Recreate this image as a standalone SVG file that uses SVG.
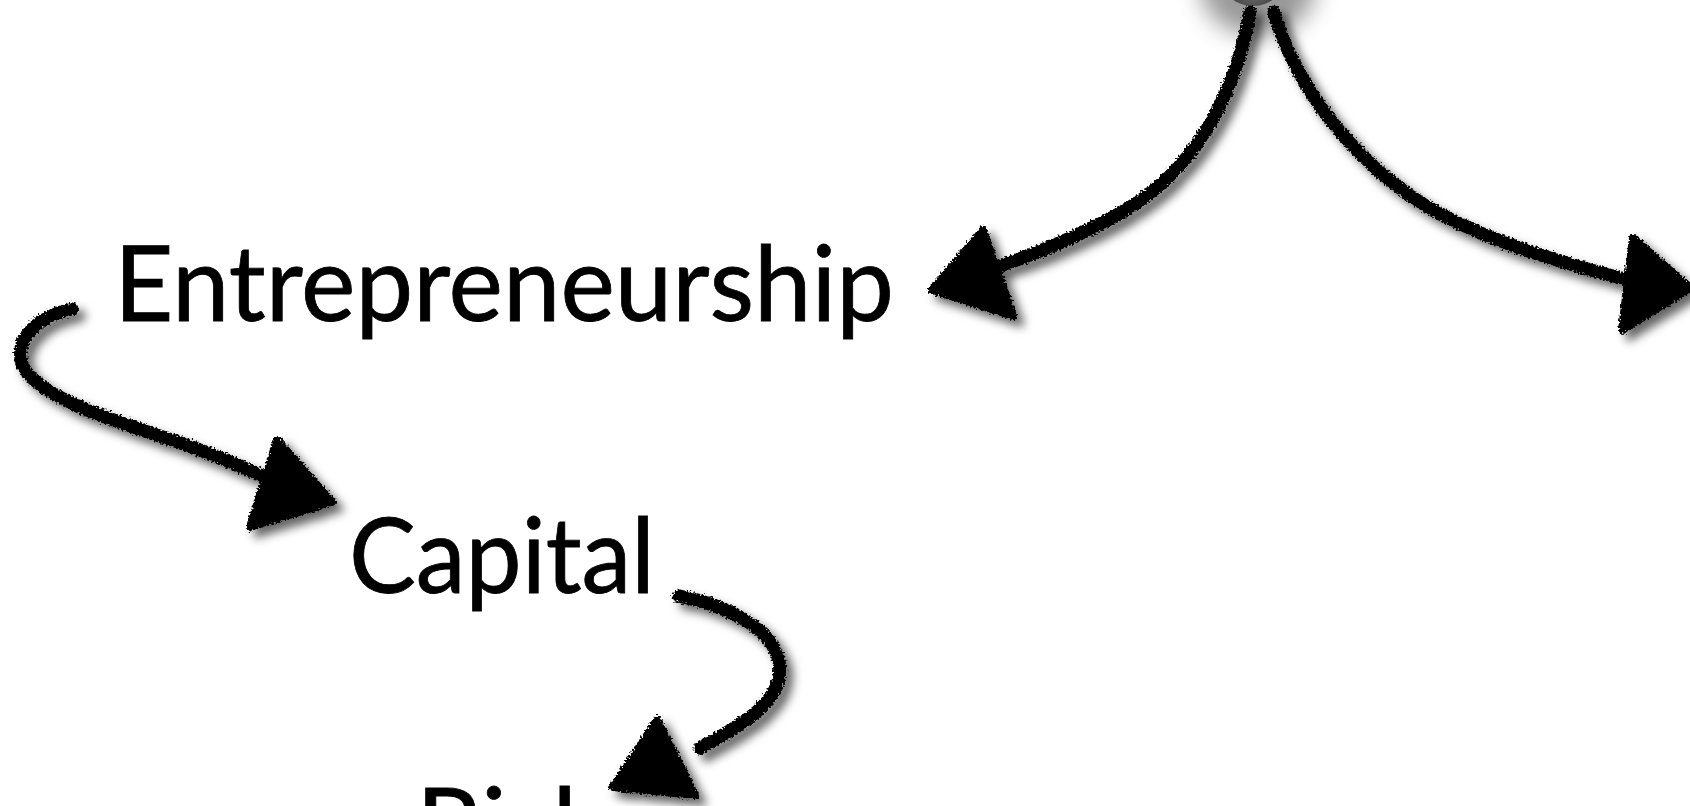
<svg xmlns="http://www.w3.org/2000/svg" width="1690" height="806" viewBox="0 0 1690 806">
  <style>
    .lbl { font-family: "Lato", "Open Sans", "Liberation Sans", sans-serif; font-size: 104px; fill: #000; stroke: #000; stroke-width: 0.8; }
    .chalk { fill: none; stroke: #000; stroke-width: 13; stroke-linecap: round; stroke-linejoin: round; }
    .head { fill: #000; stroke: #000; stroke-width: 8; stroke-linejoin: round; }
  </style>
  <defs>
    <filter id="rough" filterUnits="userSpaceOnUse" x="0" y="-60" width="1700" height="900">
      <feTurbulence type="fractalNoise" baseFrequency="0.5" numOctaves="2" seed="3" result="noise"/>
      <feDisplacementMap in="SourceGraphic" in2="noise" scale="7" xChannelSelector="R" yChannelSelector="G" result="rough"/>
      <feGaussianBlur in="rough" stdDeviation="5" result="blur0"/>
      <feColorMatrix in="blur0" type="matrix" values="0 0 0 0 0  0 0 0 0 0  0 0 0 0 0  0 0 0 0.6 0" result="shadowA"/>
      <feOffset in="shadowA" dx="7" dy="7" result="shadow"/>
      <feMerge>
        <feMergeNode in="shadow"/>
        <feMergeNode in="rough"/>
      </feMerge>
    </filter>
    <filter id="soft" filterUnits="userSpaceOnUse" x="1100" y="-100" width="300" height="200">
      <feGaussianBlur stdDeviation="12"/>
    </filter>
    <radialGradient id="ball" cx="0.5" cy="0.8" r="0.7">
      <stop offset="0" stop-color="#6a6a6a"/>
      <stop offset="0.6" stop-color="#3a3a3a"/>
      <stop offset="1" stop-color="#1e1e1e"/>
    </radialGradient>
  </defs>
  <rect width="1690" height="806" fill="#ffffff"/>

  <g id="node-top">
    <ellipse cx="1258" cy="-16" rx="58" ry="52" fill="#000" opacity="0.4" filter="url(#soft)"/>
    <ellipse cx="1253" cy="-27" rx="34" ry="33" fill="url(#ball)"/>
  </g>

  <g id="node-entrepreneurship">
    <text class="lbl" x="114" y="321" textLength="780" lengthAdjust="spacingAndGlyphs">Entrepreneurship</text>
  </g>
  <g id="node-capital">
    <text class="lbl" x="349" y="593" textLength="306" lengthAdjust="spacingAndGlyphs">Capital</text>
  </g>
  <g id="node-risk">
    <text class="lbl" x="416" y="863" textLength="190" lengthAdjust="spacingAndGlyphs">Risk</text>
  </g>

  <g id="connectors" filter="url(#rough)">
    <g id="edge-top-entrepreneurship">
      <path class="chalk" d="M1250,12 C1238,80 1205,158 1135,204 C1095,230 1045,250 995,268"/>
      <polygon class="head" points="983,230 932,290 1013,316"/>
    </g>
    <g id="edge-top-right">
      <path class="chalk" d="M1274,12 C1296,90 1360,170 1440,214 C1500,245 1560,262 1628,280"/>
      <polygon class="head" points="1633,238 1690,288 1622,330"/>
    </g>
    <g id="edge-entrepreneurship-capital">
      <path class="chalk" d="M72,309 C42,315 14,336 22,364 C34,395 110,420 175,441 C210,453 238,465 262,476"/>
      <polygon class="head" points="277,440 332,502 250,527"/>
    </g>
    <g id="edge-capital-risk">
      <path class="chalk" d="M679,596 C722,604 772,626 779,662 C786,700 742,725 700,748"/>
      <polygon class="head" points="657,720 613,787 695,795"/>
    </g>
  </g>
</svg>
